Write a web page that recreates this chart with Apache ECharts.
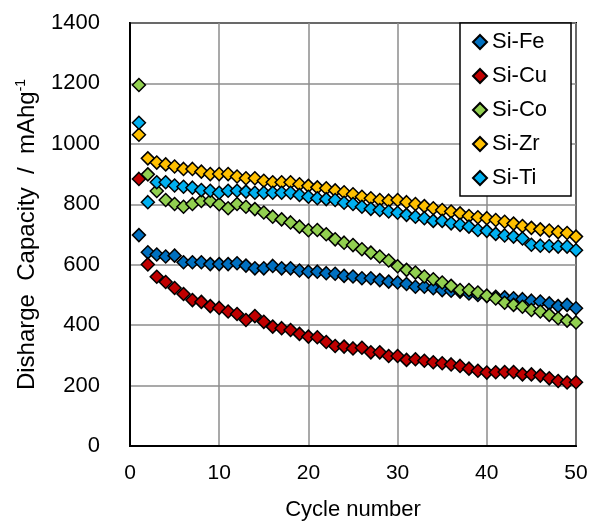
<!DOCTYPE html>
<html>
<head>
<meta charset="utf-8">
<script src="https://cdn.jsdelivr.net/npm/echarts@6/dist/echarts.min.js"></script>
<style>
  html, body { margin: 0; padding: 0; background: #fff; }
  #chart { width: 592px; height: 527px; }
</style>
</head>
<body>
<div id="chart"></div>
<script>
// Discharge capacity (mAh/g) for cycles 1..50
const cycles = Array.from({ length: 50 }, (_, i) => i + 1);
const xTicks = [0, 10, 20, 30, 40, 50];
const yTicks = [0, 200, 400, 600, 800, 1000, 1200, 1400];

const siFe = [698, 641, 634, 627, 630, 608, 608, 608, 602, 602, 602, 605, 597, 588, 588, 596, 588, 588, 581, 577,
  577, 572, 570, 563, 561, 555, 555, 549, 544, 541, 536, 527, 527, 522, 516, 514, 511, 505, 500, 497,
  494, 492, 489, 486, 481, 478, 472, 463, 467, 456];
const siCu = [884, 601, 560, 543, 523, 503, 483, 477, 463, 457, 445, 437, 417, 430, 411, 395, 390, 384, 371, 362,
  360, 344, 331, 329, 323, 325, 310, 310, 298, 298, 285, 287, 282, 277, 274, 270, 265, 256, 249, 243,
  244, 245, 245, 237, 237, 233, 224, 215, 210, 211];
const siCo = [1195, 899, 844, 814, 801, 792, 801, 811, 811, 800, 787, 801, 792, 784, 773, 759, 750, 740, 726, 714,
  715, 701, 684, 673, 665, 651, 640, 627, 614, 595, 583, 574, 561, 552, 541, 530, 516, 516, 508, 497,
  488, 474, 467, 461, 450, 445, 434, 423, 415, 409];
const siZr = [1030, 952, 938, 932, 925, 917, 917, 908, 900, 900, 900, 892, 886, 886, 878, 873, 873, 873, 866, 861,
  856, 853, 846, 840, 833, 825, 820, 814, 812, 814, 807, 801, 794, 787, 781, 776, 770, 761, 757, 754,
  748, 742, 736, 728, 722, 717, 713, 708, 705, 693];
const siTi = [1070, 807, 873, 873, 862, 858, 855, 847, 845, 838, 845, 845, 842, 838, 838, 838, 838, 838, 831, 825,
  820, 817, 814, 805, 801, 792, 785, 781, 776, 772, 765, 759, 754, 745, 745, 737, 732, 726, 715, 712,
  702, 697, 693, 687, 666, 663, 662, 660, 660, 648];

const seriesDefs = [
  { name: 'Si-Fe', data: siFe, color: '#0070C0' },
  { name: 'Si-Cu', data: siCu, color: '#C00000' },
  { name: 'Si-Co', data: siCo, color: '#92D050' },
  { name: 'Si-Zr', data: siZr, color: '#FFC000' },
  { name: 'Si-Ti', data: siTi, color: '#00B0F0' }
];

const chart = echarts.init(document.getElementById('chart'), null, { renderer: 'canvas' });

chart.setOption({
  animation: false,
  backgroundColor: '#fff',
  textStyle: { fontFamily: 'Liberation Sans, Arial, sans-serif' },
  grid: {
    left: 130, right: 16, top: 23, bottom: 81,
    show: true, borderColor: '#000', borderWidth: 2, backgroundColor: 'transparent'
  },
  legend: {
    orient: 'vertical',
    left: 460, top: 23,
    padding: [8, 24, 7, 12],
    itemGap: 12,
    itemWidth: 14, itemHeight: 14,
    itemTextGap: 8,
    backgroundColor: '#fff',
    borderColor: '#000', borderWidth: 1.5, borderRadius: 0,
    textStyle: { fontSize: 22, color: '#000', fontFamily: 'Liberation Sans' },
    data: seriesDefs.map(s => ({ name: s.name, icon: 'diamond' }))
  },
  xAxis: {
    type: 'value',
    min: xTicks[0], max: xTicks[xTicks.length - 1], interval: 10,
    name: 'Cycle number',
    nameLocation: 'middle', nameGap: 53,
    nameTextStyle: { fontSize: 22, color: '#000', fontFamily: 'Liberation Sans' },
    axisLine: { show: true, lineStyle: { color: '#000', width: 2 } },
    axisTick: { show: false },
    axisLabel: { fontSize: 21, color: '#000', margin: 17, fontFamily: 'Liberation Sans' },
    splitLine: { show: true, lineStyle: { color: '#8c8c8c', width: 1.5 } }
  },
  yAxis: {
    type: 'value',
    min: yTicks[0], max: yTicks[yTicks.length - 1], interval: 200,
    name: '{a|Disharge  Capacity  /  mAhg}{s|-1}',
    nameLocation: 'middle', nameRotate: 90, nameGap: 85,
    nameTextStyle: {
      color: '#000',
      rich: {
        a: { fontSize: 24, color: '#000', fontFamily: 'Liberation Sans', lineHeight: 28 },
        s: { fontSize: 14, color: '#000', fontFamily: 'Liberation Sans', lineHeight: 28, padding: [0, 0, 12, 0] }
      }
    },
    axisLine: { show: true, lineStyle: { color: '#000', width: 2 } },
    axisTick: { show: false },
    axisLabel: { fontSize: 22, color: '#000', margin: 30, formatter: v => String(v) },
    splitLine: { show: true, lineStyle: { color: '#8c8c8c', width: 1.5 } }
  },
  series: seriesDefs.map(s => ({
    name: s.name,
    type: 'scatter',
    symbol: 'diamond',
    symbolSize: 13,
    data: cycles.map((c, i) => [c, s.data[i]]),
    itemStyle: { color: s.color, borderColor: '#000', borderWidth: 1.5, opacity: 1 }
  }))
});
</script>
</body>
</html>
